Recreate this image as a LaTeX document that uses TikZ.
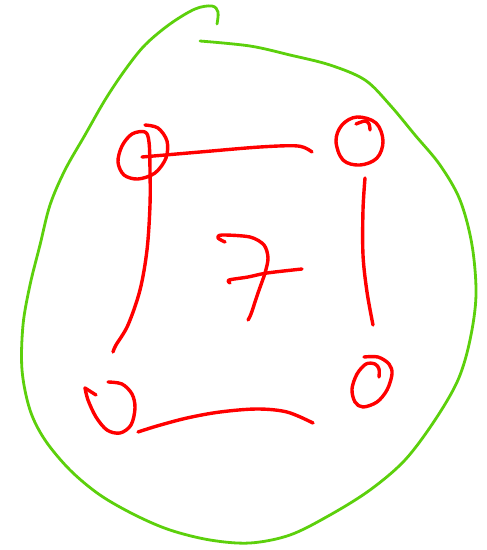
\documentclass[tikz,border=0pt]{standalone}
\definecolor{pen}{RGB}{255,0,0}
\definecolor{outer}{RGB}{92,208,12}
\tikzset{
  redink/.style={draw=pen, line width=3.4pt, line cap=round, line join=round},
  greenink/.style={draw=outer, line width=2.8pt, line cap=round, line join=round}
}
\begin{document}
\begin{tikzpicture}[x=1pt,y=-1pt]
\useasboundingbox[fill=white] (0,0) rectangle (487,550);
% green enclosing loop
\draw[greenink] plot[smooth, tension=0.55] coordinates {
 (217,24) (218,12) (212,6) (195,9) (170,24) (145,45) (125,70) (105,100) (85,135)
 (65,170) (50,205) (40,245) (30,285) (23,325) (22,370) (30,410) (45,440) (70,470)
 (100,495) (135,515) (170,530) (210,540) (250,543) (290,535) (330,515) (370,490)
 (405,460) (435,420) (458,380) (470,340) (476,295) (472,245) (460,200) (440,165)
 (415,135) (390,105) (365,80) (330,65) (290,55) (250,46) (200,41)};
% top-left node loop with left vertical line
\draw[redink] plot[smooth, tension=0.55] coordinates {
 (145,125) (158,128) (167,141) (166,158) (155,173) (138,179) (124,175) (118,162)
 (122,146) (132,134) (145,132) (149,142) (150,170) (150,205) (147,250) (140,290)
 (128,325) (116,345) (113,352)};
% top horizontal line
\draw[redink] plot[smooth, tension=0.55] coordinates {
 (142,157) (200,152) (260,147) (298,146) (312,152)};
% top-right node loop
\draw[redink] plot[smooth cycle, tension=0.6] coordinates {
 (357,117) (376,123) (383,141) (377,158) (360,165) (343,160) (336,141) (342,125)};
\draw[redink] plot[smooth, tension=0.6] coordinates {
 (356,124) (365,121) (369,124) (370,130)};
% right vertical line
\draw[redink] plot[smooth, tension=0.55] coordinates {
 (365,178) (363,210) (363,255) (367,292) (373,325)};
% bottom-left node loop with hook
\draw[redink] plot[smooth, tension=0.55] coordinates {
 (108,382) (122,384) (132,394) (135,408) (131,425) (120,433) (107,430) (96,417)
 (88,400) (85,388)};
\draw[redink] (85,388) -- (96,395);
% bottom line
\draw[redink] plot[smooth, tension=0.55] coordinates {
 (138,432) (157,426) (187,418) (220,412) (257,409) (287,412) (313,423)};
% bottom-right node loop
\draw[redink] plot[smooth, tension=0.55] coordinates {
 (364,357) (378,357) (389,364) (392,374) (387,390) (377,402) (363,407) (355,402)
 (352,389) (357,374) (366,364) (375,364) (379,369) (379,377)};
% the 7
\draw[redink] plot[smooth, tension=0.5] coordinates {
 (225,242) (218,238) (222,235) (250,237) (264,245) (268,258) (265,273) (258,293)
 (251,314) (248,320)};
\draw[redink] plot[smooth, tension=0.5] coordinates {
 (230,283) (229,280) (248,277) (267,273) (302,269)};
\end{tikzpicture}
\end{document}
